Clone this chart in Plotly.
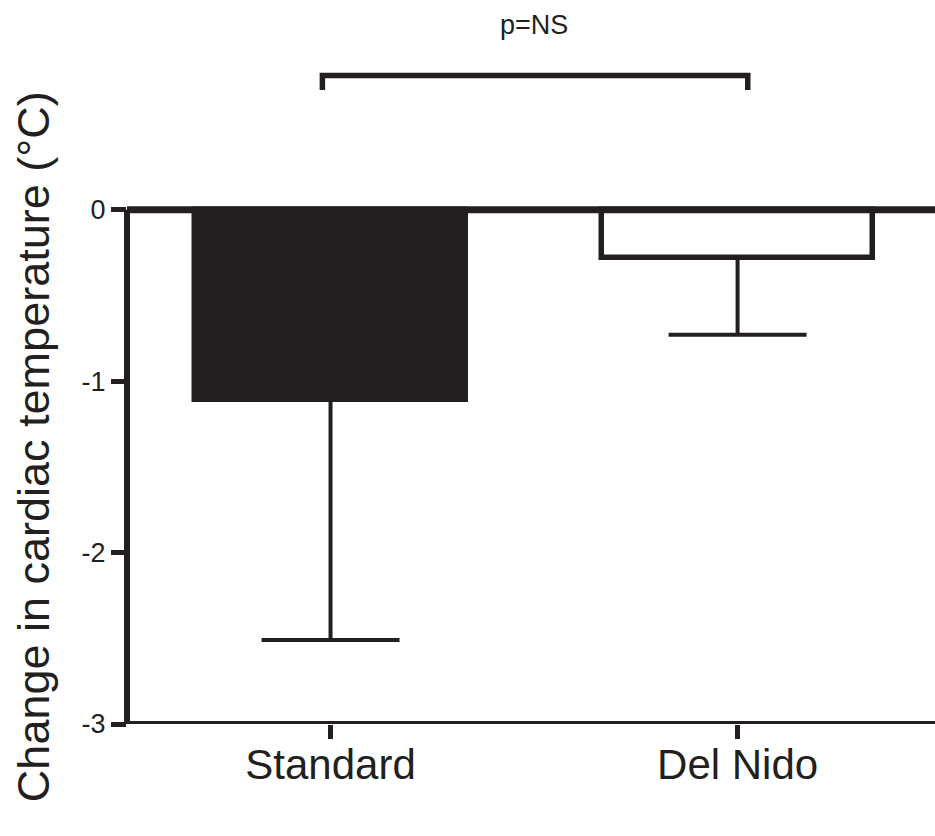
import plotly.graph_objects as go

# Mean change in cardiac temperature with error (°C)
groups = ["Standard", "Del Nido"]
mean_change = [-1.11, -0.28]
error_down = [1.40, 0.45]
y_ticks = [-3, -2, -1, 0]
p_label = "p=NS"

INK = "#231f20"
FONT = "Liberation Sans, Arial, Helvetica, sans-serif"

fig = go.Figure()

fig.add_trace(go.Bar(
    x=groups,
    y=mean_change,
    width=0.667,
    marker=dict(
        color=[INK, "white"],
        line=dict(color=INK, width=5.5),
    ),
    error_y=dict(
        type="data",
        symmetric=False,
        array=[0, 0],
        arrayminus=error_down,
        color=INK,
        thickness=4,
        width=69,
    ),
    showlegend=False,
))

shapes = [
    # zero reference line across the plot
    dict(type="line", xref="paper", yref="y", x0=0, x1=1, y0=0, y1=0,
         line=dict(color=INK, width=7), layer="above"),
    # left axis spine, from -3 up to 0
    dict(type="line", xref="paper", yref="y", x0=0, x1=0, y0=-3, y1=0,
         line=dict(color=INK, width=6), layer="above"),
    # bottom axis spine
    dict(type="line", xref="paper", yref="y", x0=0, x1=1, y0=-3, y1=-3,
         line=dict(color=INK, width=6), layer="above"),
    # significance bracket between the two groups
    dict(type="path", xref="x", yref="y",
         path="M -0.02,0.698 L -0.02,0.783 L 1.025,0.783 L 1.025,0.698",
         line=dict(color=INK, width=5.5), layer="above"),
]

annotations = [
    dict(text=p_label, xref="x", yref="y", x=0.501, y=1.08,
         showarrow=False, xanchor="center", yanchor="middle",
         font=dict(family=FONT, size=27, color=INK)),
    dict(text="Change in cardiac temperature (°C)", xref="paper", yref="y",
         x=0, xshift=-94, y=-1.385, textangle=-90, showarrow=False,
         xanchor="center", yanchor="middle",
         font=dict(family=FONT, size=45, color=INK)),
]

fig.update_layout(
    width=935,
    height=836,
    margin=dict(l=127, r=0, t=4, b=112, autoexpand=False),
    paper_bgcolor="white",
    plot_bgcolor="white",
    bargap=0,
    shapes=shapes,
    annotations=annotations,
    font=dict(family=FONT, color=INK),
    xaxis=dict(
        range=[-0.5, 1.485],
        showgrid=False,
        zeroline=False,
        showline=False,
        ticks="outside",
        ticklen=14,
        tickwidth=5,
        tickcolor=INK,
        ticklabelstandoff=-10,
        tickfont=dict(family=FONT, size=42, color=INK),
    ),
    yaxis=dict(
        range=[-3, 1.2],
        showgrid=False,
        zeroline=False,
        showline=False,
        tickvals=y_ticks,
        ticktext=[str(v) for v in y_ticks],
        ticks="outside",
        ticklen=15,
        tickwidth=5,
        tickcolor=INK,
        tickfont=dict(family=FONT, size=27, color=INK),
    ),
)

fig.write_html("out.html")
